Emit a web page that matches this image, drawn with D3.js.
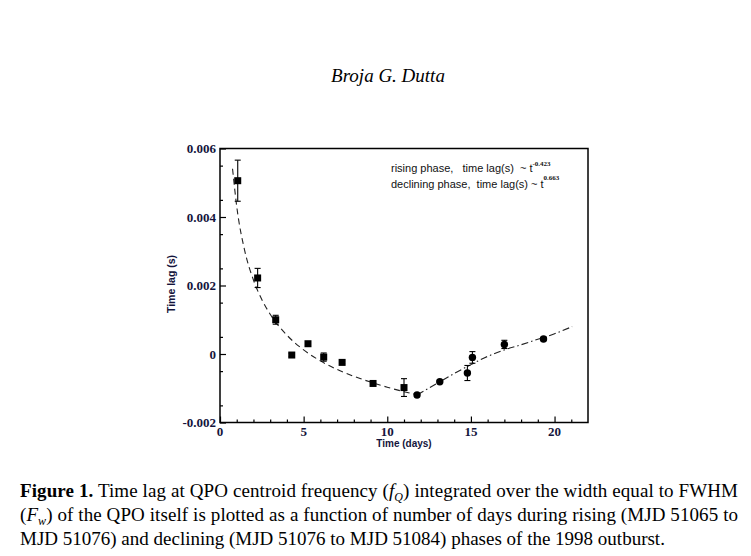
<!DOCTYPE html>
<html lang="en">
<head>
  <meta charset="UTF-8">
  <title>Time lag vs days</title>
  <style>
    body { margin: 0; background: #fff; }
    #chart { display: block; }
  </style>
</head>
<body>
  <svg id="chart"></svg>

  <script src="https://d3js.org/d3.v7.min.js"></script>
  <script>
    // Chart size and plot box
    const width = 751;
    const height = 556;
    const margin = { top: 148.5, right: 163, bottom: 133.5, left: 220 };

    // Rising phase data (squares)
    const riseDays = [1.06, 2.25, 3.33, 4.29, 5.26, 6.2, 7.3, 9.15, 11.0];
    const riseLag = [0.00506, 0.00222, 0.00100, -0.00003, 0.00030, -0.00009, -0.000245, -0.00086, -0.00098];
    const riseErr = [0.00060, 0.00028, 0.00013, 0.00005, 0.00004, 0.00012, 0.00004, 0.00004, 0.00026];

    // Declining phase data (circles)
    const declDays = [11.78, 13.14, 14.79, 15.09, 17.0, 19.34];
    const declLag = [-0.001195, -0.00081, -0.000555, -0.00010, 0.00028, 0.000437];
    const declErr = [0.00003, 0.00003, 0.00022, 0.00017, 0.00012, 0.00005];

    // Fit curves
    const riseFitDays = [0.75, 1, 1.5, 2, 2.5, 3, 4, 5, 6, 7, 8, 9, 10, 11, 11.8];
    const riseFitLag = [0.00541, 0.00431, 0.00297, 0.00216, 0.00159, 0.00116, 0.00055, 0.00012, -0.00020, -0.00045, -0.00065, -0.00082, -0.00097, -0.00110, -0.00119];
    const declFitDays = [11.8, 13, 14, 15, 16, 17, 18, 19, 20, 21.05];
    const declFitLag = [-0.00119, -0.00085, -0.00057, -0.00031, -0.00007, 0.00012, 0.00027, 0.00043, 0.00059, 0.00080];

    // Tick labels
    const xTicks = [0, 5, 10, 15, 20];
    const yTicks = [-0.002, 0, 0.002, 0.004, 0.006];
    const yTickLabels = ["-0.002", "0", "0.002", "0.004", "0.006"];

    const inkTick = "#14143c";
    const serif = "'Liberation Serif', 'Times New Roman', serif";
    const sans = "'Liberation Sans', Arial, sans-serif";
    const sp = "\u00a0";

    const svg = d3.select("#chart")
      .attr("width", width)
      .attr("height", height);

    const x = d3.scaleLinear().domain([0, 22]).range([margin.left, width - margin.right]);
    const y = d3.scaleLinear().domain([-0.002, 0.006]).range([height - margin.bottom, margin.top]);

    // Header
    svg.append("text")
      .attr("x", 388).attr("y", 82)
      .attr("text-anchor", "middle")
      .style("font-family", serif)
      .style("font-style", "italic")
      .style("font-size", "19px")
      .text("Broja G. Dutta");

    // Minor ticks (inward)
    const minorX = d3.range(0, 22, 1).filter(d => d % 5 !== 0);
    const minorY = d3.range(-0.002, 0.0060001, 0.0005).filter(d => Math.abs(Math.round(d * 1000) - d * 1000) > 1e-6);

    const xAxis = d3.axisBottom(x).tickValues(xTicks).tickSizeInner(-6).tickSizeOuter(0).tickFormat("");
    const yAxis = d3.axisLeft(y).tickValues(yTicks).tickSizeInner(-6).tickSizeOuter(0).tickFormat("");

    svg.append("g").attr("transform", `translate(0,${y.range()[0]})`).call(xAxis);
    svg.append("g").attr("transform", `translate(${x.range()[0]},0)`).call(yAxis);
    svg.append("g").attr("transform", `translate(0,${y.range()[0]})`)
      .call(d3.axisBottom(x).tickValues(minorX).tickSizeInner(-3).tickSizeOuter(0).tickFormat(""));
    svg.append("g").attr("transform", `translate(${x.range()[0]},0)`)
      .call(d3.axisLeft(y).tickValues(minorY).tickSizeInner(-3).tickSizeOuter(0).tickFormat(""));
    svg.selectAll(".domain").remove();
    svg.selectAll(".tick line").attr("stroke", "#000").attr("stroke-width", 1.2);

    // Frame
    svg.append("rect")
      .attr("x", x.range()[0]).attr("y", y.range()[1])
      .attr("width", x.range()[1] - x.range()[0])
      .attr("height", y.range()[0] - y.range()[1])
      .attr("fill", "none").attr("stroke", "#000").attr("stroke-width", 1.5);

    // Tick labels
    svg.append("g").selectAll("text").data(xTicks).join("text")
      .attr("x", d => x(d)).attr("y", 435.5)
      .attr("text-anchor", "middle")
      .style("font-family", serif).style("font-weight", "bold").style("font-size", "13px")
      .attr("fill", inkTick)
      .text(d => d);
    svg.append("g").selectAll("text").data(yTicks).join("text")
      .attr("x", 216).attr("y", d => y(d) + 4.5)
      .attr("text-anchor", "end")
      .style("font-family", serif).style("font-weight", "bold").style("font-size", "13px")
      .attr("fill", inkTick)
      .text((d, i) => yTickLabels[i]);

    // Axis titles
    svg.append("text")
      .attr("x", 404).attr("y", 447)
      .attr("text-anchor", "middle")
      .style("font-family", sans).style("font-weight", "bold").style("font-size", "10px")
      .attr("fill", inkTick)
      .text("Time (days)");
    svg.append("text")
      .attr("transform", "translate(175,284) rotate(-90)")
      .attr("text-anchor", "middle")
      .style("font-family", sans).style("font-weight", "bold").style("font-size", "10.5px")
      .attr("fill", inkTick)
      .text("Time lag (s)");

    // Fit curves
    const line = d3.line().x(d => x(d[0])).y(d => y(d[1])).curve(d3.curveMonotoneX);
    svg.append("path")
      .datum(riseFitDays.map((d, i) => [d, riseFitLag[i]]))
      .attr("d", line)
      .attr("fill", "none").attr("stroke", "#222").attr("stroke-width", 1.1)
      .attr("stroke-dasharray", "6,4");
    svg.append("path")
      .datum(declFitDays.map((d, i) => [d, declFitLag[i]]))
      .attr("d", line)
      .attr("fill", "none").attr("stroke", "#222").attr("stroke-width", 1.1)
      .attr("stroke-dasharray", "7,3,1.5,3");

    // Error bars
    function errorBars(days, lag, err) {
      const g = svg.append("g").attr("stroke", "#000").attr("stroke-width", 1.1);
      days.forEach((d, i) => {
        const cx = x(d), y0 = y(lag[i] - err[i]), y1 = y(lag[i] + err[i]);
        g.append("line").attr("x1", cx).attr("x2", cx).attr("y1", y0).attr("y2", y1);
        g.append("line").attr("x1", cx - 3).attr("x2", cx + 3).attr("y1", y0).attr("y2", y0);
        g.append("line").attr("x1", cx - 3).attr("x2", cx + 3).attr("y1", y1).attr("y2", y1);
      });
    }
    errorBars(riseDays, riseLag, riseErr);
    errorBars(declDays, declLag, declErr);

    // Markers
    svg.append("g").selectAll("rect").data(riseDays).join("rect")
      .attr("x", d => x(d) - 3.5)
      .attr("y", (d, i) => y(riseLag[i]) - 3.5)
      .attr("width", 7).attr("height", 7)
      .attr("fill", "#000");
    svg.append("g").selectAll("circle").data(declDays).join("circle")
      .attr("cx", d => x(d))
      .attr("cy", (d, i) => y(declLag[i]))
      .attr("r", 3.7)
      .attr("fill", "#000");

    // Legend text
    const leg = svg.append("g")
      .style("font-family", sans).style("font-size", "11px")
      .attr("fill", "#111");
    const l1 = leg.append("text").attr("x", 391).attr("y", 172);
    l1.append("tspan").text(`rising phase,${sp}${sp} time lag(s)${sp} ~ t`);
    l1.append("tspan").attr("dy", -6).style("font-size", "7px").style("font-weight", "bold")
      .style("font-family", serif).text("-0.423");
    const l2 = leg.append("text").attr("x", 391).attr("y", 188);
    l2.append("tspan").text(`declining phase,${sp} time lag(s) ~ t`);
    l2.append("tspan").attr("dy", -8).style("font-size", "7px").style("font-weight", "bold")
      .style("font-family", serif).text("0.663");

    // Caption
    const cap = svg.append("g").style("font-family", serif).style("font-size", "19px").attr("fill", "#000");
    const c1 = cap.append("text").attr("x", 20).attr("y", 497).attr("textLength", 718).attr("lengthAdjust", "spacing");
    c1.append("tspan").style("font-weight", "bold").text("Figure 1.");
    c1.append("tspan").text(" Time lag at QPO centroid frequency (");
    c1.append("tspan").style("font-style", "italic").text("f");
    c1.append("tspan").style("font-style", "italic").style("font-size", "12px").attr("dy", 4).text("Q");
    c1.append("tspan").attr("dy", -4).text(") integrated over the width equal to FWHM");
    const c2 = cap.append("text").attr("x", 20).attr("y", 521).attr("textLength", 718).attr("lengthAdjust", "spacing");
    c2.append("tspan").text("(");
    c2.append("tspan").style("font-style", "italic").text("F");
    c2.append("tspan").style("font-style", "italic").style("font-size", "12px").attr("dy", 4).text("w");
    c2.append("tspan").attr("dy", -4).text(") of the QPO itself is plotted as a function of number of days during rising (MJD 51065 to");
    cap.append("text").attr("x", 20).attr("y", 545)
      .text("MJD 51076) and declining (MJD 51076 to MJD 51084) phases of the 1998 outburst.");
  </script>
</body>
</html>
